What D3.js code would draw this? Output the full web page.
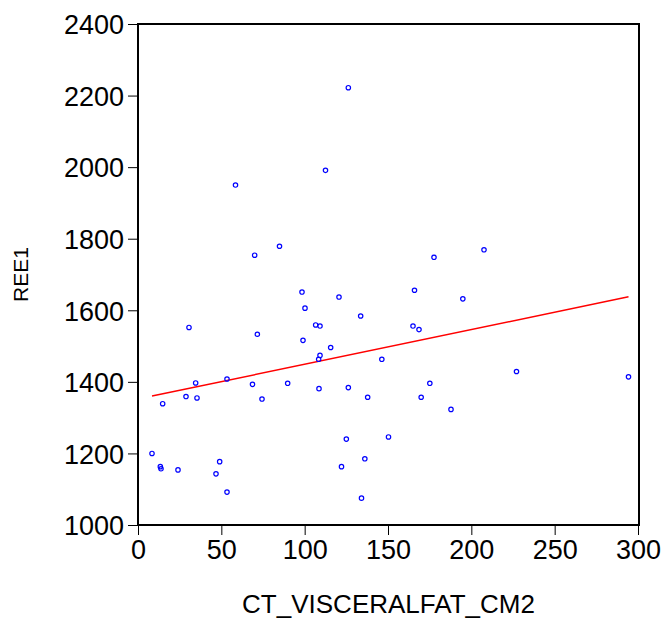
<!DOCTYPE html>
<html lang="en">
<head>
    <meta charset="UTF-8">
    <title>REE1 vs CT_VISCERALFAT_CM2</title>
    <style>
        body { margin: 0; background: #fff; }
        svg text { font-family: "Liberation Sans", Arial, sans-serif; fill: #000; }
    </style>
</head>
<body>
    <div id="chart"></div>

    <script src="https://d3js.org/d3.v7.min.js"></script>
    <script>
        // visceral fat (cm2) and REE1
        var fatValues = [126.2, 112.5, 58.5, 84.9, 70.0, 207.6, 177.6,
            98.4, 120.6, 100.2, 133.6, 30.6, 106.6, 109.2, 71.6, 99.0, 115.6,
            109.2, 108.4, 146.3, 53.4, 34.6, 68.7, 89.8, 108.6, 126.2, 28.8,
            35.4, 74.4, 137.8, 14.8, 125.0, 150.3, 8.4, 49.0, 136.1, 13.4,
            13.8, 122.1, 24.0, 46.8, 53.4, 134.1,
            165.9, 194.9, 165.0, 168.6, 227.1, 294.3, 175.1, 169.9, 187.8];
        var reeValues = [2222, 1991, 1950, 1779, 1754, 1769, 1748,
            1651, 1637, 1606, 1584, 1552, 1559, 1556, 1533, 1516, 1496,
            1474, 1463, 1463, 1408, 1397, 1393, 1396, 1381, 1384, 1359,
            1355, 1352, 1357, 1339, 1240, 1246, 1200, 1177, 1185, 1163,
            1157, 1163, 1154, 1143, 1092, 1075,
            1656, 1632, 1556, 1546, 1429, 1414, 1396, 1357, 1323];
        var xTicks = [0, 50, 100, 150, 200, 250, 300];
        var yTicks = [1000, 1200, 1400, 1600, 1800, 2000, 2200, 2400];

        var width = 665, height = 619;
        var plot = { left: 138, right: 639, top: 24, bottom: 525 };

        var svg = d3.select("#chart")
            .append("svg")
                .attr("width", width)
                .attr("height", height);

        var xScale = d3.scaleLinear()
            .domain([0, 300])
            .range([plot.left, plot.right - 1]);

        var yScale = d3.scaleLinear()
            .domain([1000, 2400])
            .range([plot.bottom, plot.top]);

        // axes
        var xAxis = d3.axisBottom(xScale)
            .tickValues(xTicks)
            .tickFormat(d3.format("d"))
            .tickSize(10)
            .tickPadding(5)
            .tickSizeOuter(0);

        var yAxis = d3.axisLeft(yScale)
            .tickValues(yTicks)
            .tickFormat(d3.format("d"))
            .tickSize(10)
            .tickPadding(4)
            .tickSizeOuter(0);

        var xGuide = svg.append("g")
            .attr("transform", "translate(0," + plot.bottom + ")")
            .call(xAxis);
        var yGuide = svg.append("g")
            .attr("transform", "translate(" + plot.left + ",0)")
            .call(yAxis);

        [xGuide, yGuide].forEach(function(g){
            g.select(".domain").remove();
            g.selectAll("line").style("stroke", "#000").style("stroke-width", 1);
            g.selectAll("text")
                .style("font-size", "27px")
                .style("font-family", "'Liberation Sans', Arial, sans-serif");
        });
        yGuide.selectAll("text").attr("dy", "0.36em");

        // frame
        svg.append("rect")
            .attr("x", plot.left)
            .attr("y", plot.top)
            .attr("width", plot.right - plot.left)
            .attr("height", plot.bottom - plot.top)
            .style("fill", "none")
            .style("stroke", "#000")
            .style("stroke-width", 2);

        // least squares fit
        var n = fatValues.length;
        var mx = d3.mean(fatValues), my = d3.mean(reeValues);
        var sxy = 0, sxx = 0;
        for (var i = 0; i < n; i++) {
            sxy += (fatValues[i] - mx) * (reeValues[i] - my);
            sxx += (fatValues[i] - mx) * (fatValues[i] - mx);
        }
        var slope = sxy / sxx;
        var intercept = my - slope * mx;
        var xExtent = d3.extent(fatValues);

        svg.append("line")
            .attr("x1", xScale(xExtent[0]))
            .attr("y1", yScale(intercept + slope * xExtent[0]))
            .attr("x2", xScale(xExtent[1]))
            .attr("y2", yScale(intercept + slope * xExtent[1]))
            .style("stroke", "#ff0000")
            .style("stroke-width", 1.5);

        // points
        svg.append("g")
            .selectAll("circle")
            .data(fatValues)
            .enter()
            .append("circle")
                .attr("cx", function(d){ return xScale(d); })
                .attr("cy", function(d, i){ return yScale(reeValues[i]); })
                .attr("r", 2.2)
                .style("fill", "none")
                .style("stroke", "#0000ff")
                .style("stroke-width", 1.2);

        // titles
        svg.append("text")
            .attr("x", (plot.left + plot.right) / 2)
            .attr("y", 613)
            .attr("text-anchor", "middle")
            .style("font-size", "26px")
            .text("CT_VISCERALFAT_CM2");

        svg.append("text")
            .attr("transform", "translate(28," + ((plot.top + plot.bottom) / 2) + ") rotate(-90)")
            .attr("text-anchor", "middle")
            .style("font-size", "21px")
            .text("REE1");
    </script>
</body>
</html>
